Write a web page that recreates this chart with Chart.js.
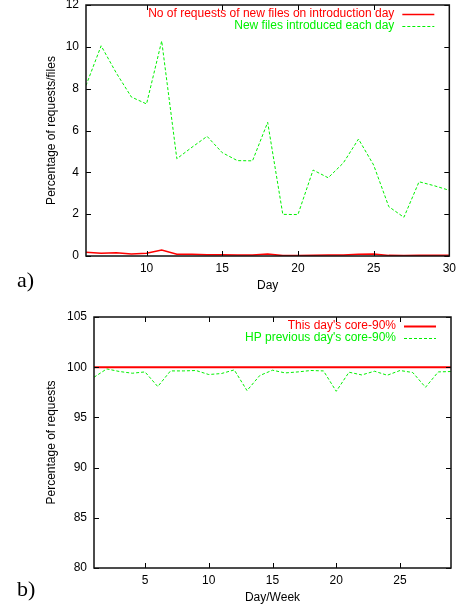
<!DOCTYPE html>
<html>
<head>
<meta charset="utf-8">
<script src="https://cdn.jsdelivr.net/npm/chart.js@4.4.0/dist/chart.umd.min.js"></script>
<style>
  body { margin: 0; background: #fff; width: 461px; height: 610px; position: relative; overflow: hidden; }
  .box { position: absolute; left: 0; width: 461px; height: 310px; }
  .tag { position: absolute; left: 17px; font-family: "Liberation Serif", "DejaVu Serif", serif; font-size: 22px; line-height: 22px; color: #000; }
</style>
</head>
<body>
<div class="box" style="top:-10px"><canvas id="chart-a" width="461" height="310"></canvas></div>
<div class="box" style="top:300px"><canvas id="chart-b" width="461" height="310"></canvas></div>
<div class="tag" style="top:269px">a)</div>
<div class="tag" style="top:578px">b)</div>
<script>
// a) new files per day
const daysA = [6, 7, 8, 9, 10, 11, 12, 13, 14, 15, 16, 17, 18, 19, 20, 21, 22, 23, 24, 25, 26, 27, 28, 29, 30];
const newFileRequests = [0.18, 0.13, 0.16, 0.10, 0.13, 0.29, 0.08, 0.08, 0.06, 0.06, 0.05, 0.05, 0.10,
  0.02, 0.02, 0.04, 0.05, 0.05, 0.08, 0.09, 0.03, 0.02, 0.03, 0.03, 0.03];
const newFiles = [8.15, 10.05, 8.75, 7.6, 7.27, 10.28, 4.65, 5.2, 5.72, 4.94, 4.56, 4.55, 6.39,
  1.99, 1.98, 4.11, 3.74, 4.45, 5.59, 4.35, 2.36, 1.85, 3.55, 3.36, 3.14];
const xTicksA = [10, 15, 20, 25, 30];
const yTicksA = [0, 2, 4, 6, 8, 10, 12];

// b) core-90% per day/week
const daysB = [1, 2, 3, 4, 5, 6, 7, 8, 9, 10, 11, 12, 13, 14, 15, 16, 17, 18, 19, 20, 21, 22, 23, 24, 25, 26, 27, 28, 29];
const coreToday = [100, 100, 100, 100, 100, 100, 100, 100, 100, 100, 100, 100, 100, 100, 100,
  100, 100, 100, 100, 100, 100, 100, 100, 100, 100, 100, 100, 100, 100];
const corePrevious = [99.0, 99.83, 99.57, 99.4, 99.53, 98.07, 99.63, 99.63, 99.67, 99.27, 99.37, 99.73, 97.67, 99.17,
  99.7, 99.43, 99.53, 99.67, 99.63, 97.6, 99.5, 99.23, 99.6, 99.2, 99.67, 99.47, 98.0, 99.53, 99.57];
const xTicksB = [5, 10, 15, 20, 25];
const yTicksB = [80, 85, 90, 95, 100, 105];

const FONT = { family: '"Liberation Sans", Arial, sans-serif', size: 12 };

const toPoints = (xs, ys) => xs.map((x, i) => ({ x: x, y: ys[i] }));

// gnuplot style: box round the plot with inward ticks on all four sides
const framePlugin = {
  id: 'frame',
  afterDatasetsDraw(chart) {
    const { ctx, chartArea: a } = chart;
    const x = chart.scales.x, y = chart.scales.y;
    ctx.save();
    ctx.strokeStyle = '#000';
    ctx.lineWidth = 1;
    ctx.beginPath();
    x.ticks.forEach(t => {
      const px = Math.round(x.getPixelForValue(t.value)) + 0.5;
      ctx.moveTo(px, a.bottom); ctx.lineTo(px, a.bottom - 5);
      ctx.moveTo(px, a.top); ctx.lineTo(px, a.top + 5);
    });
    y.ticks.forEach(t => {
      const py = Math.round(y.getPixelForValue(t.value)) + 0.5;
      ctx.moveTo(a.left, py); ctx.lineTo(a.left + 5, py);
      ctx.moveTo(a.right, py); ctx.lineTo(a.right - 5, py);
    });
    ctx.stroke();
    ctx.lineWidth = 1.5;
    ctx.strokeStyle = '#111';
    ctx.strokeRect(a.left, a.top, a.right - a.left, a.bottom - a.top);
    ctx.restore();
  }
};

// key in the top right corner: text right aligned, sample line after it
const keyPlugin = {
  id: 'key',
  afterDraw(chart) {
    const { ctx, chartArea: a } = chart;
    ctx.save();
    ctx.font = FONT.size + 'px ' + FONT.family;
    ctx.textAlign = 'right';
    ctx.textBaseline = 'middle';
    chart.data.datasets.forEach((ds, i) => {
      const yy = a.top + 9 + i * 11.7;
      ctx.fillStyle = ds.borderColor;
      ctx.fillText(ds.label, a.right - 55, yy);
      ctx.strokeStyle = ds.borderColor;
      ctx.lineWidth = ds.borderWidth;
      ctx.setLineDash(ds.borderDash || []);
      ctx.beginPath();
      ctx.moveTo(a.right - 47, Math.round(yy) + 0.5);
      ctx.lineTo(a.right - 15, Math.round(yy) + 0.5);
      ctx.stroke();
    });
    ctx.restore();
  }
};

function makeChart(id, cfg) {
  const config = {
    type: 'line',
    data: {
      datasets: [
        {
          label: cfg.labels[0],
          data: toPoints(cfg.days, cfg.series[0]),
          borderColor: '#ff0000',
          borderWidth: cfg.redWidth,
          pointRadius: 0,
          tension: 0,
        },
        {
          label: cfg.labels[1],
          data: toPoints(cfg.days, cfg.series[1]),
          borderColor: '#00f000',
          borderWidth: 1,
          borderDash: [3, 2],
          pointRadius: 0,
          tension: 0,
        },
      ],
    },
    options: {
      responsive: false,
      animation: false,
      layout: { padding: { top: cfg.padTop, right: 10, left: 0, bottom: 0 } },
      plugins: { legend: { display: false }, tooltip: { enabled: false } },
      scales: {
        x: {
          type: 'linear',
          min: cfg.xMin,
          max: cfg.xMax,
          afterBuildTicks: (scale) => { scale.ticks = cfg.xTicks.map(v => ({ value: v })); },
          afterFit: (scale) => { scale.height = cfg.xHeight; },
          grid: { display: false, drawTicks: false },
          border: { display: false },
          ticks: { font: FONT, color: '#000', padding: 5, maxRotation: 0 },
          title: { display: true, text: cfg.xTitle, font: FONT, color: '#000', padding: { top: 0, bottom: cfg.xTitlePad } },
        },
        y: {
          min: cfg.yMin,
          max: cfg.yMax,
          afterBuildTicks: (scale) => { scale.ticks = cfg.yTicks.map(v => ({ value: v })); },
          afterFit: (scale) => { scale.width = cfg.yWidth; },
          grid: { display: false, drawTicks: false },
          border: { display: false },
          ticks: { font: FONT, color: '#000', padding: 7 },
          title: { display: true, text: cfg.yTitle, font: FONT, color: '#000', padding: { top: 44, bottom: 0 } },
        },
      },
    },
    plugins: [framePlugin, keyPlugin],
  };
  return new Chart(document.getElementById(id), config);
}

makeChart('chart-a', {
  days: daysA,
  series: [newFileRequests, newFiles],
  labels: ['No of requests of new files on introduction day', 'New files introduced each day'],
  redWidth: 1.5,
  padTop: 15,
  xMin: 6, xMax: 30, xTicks: xTicksA, xHeight: 44, xTitle: 'Day', xTitlePad: 7,
  yMin: 0, yMax: 12, yTicks: yTicksA, yWidth: 86, yTitle: 'Percentage of requests/files',
});

makeChart('chart-b', {
  days: daysB,
  series: [coreToday, corePrevious],
  labels: ["This day's core-90%", "HP previous day's core-90%"],
  redWidth: 2,
  padTop: 17,
  xMin: 1, xMax: 29, xTicks: xTicksB, xHeight: 42, xTitle: 'Day/Week', xTitlePad: 5,
  yMin: 80, yMax: 105, yTicks: yTicksB, yWidth: 94, yTitle: 'Percentage of requests',
});
</script>
</body>
</html>
